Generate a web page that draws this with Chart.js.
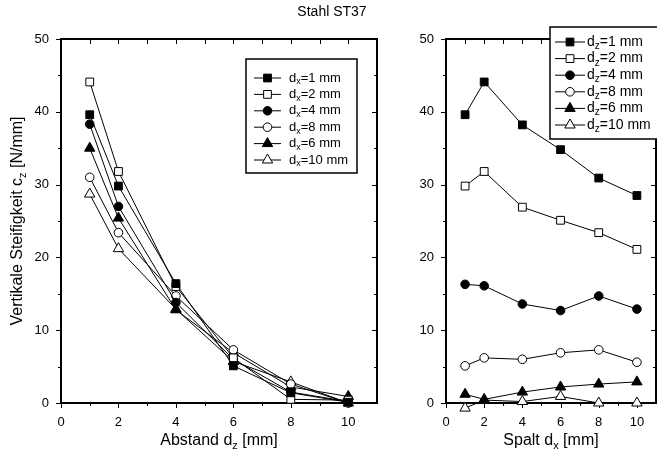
<!DOCTYPE html>
<html>
<head>
<meta charset="utf-8">
<script src="https://cdn.jsdelivr.net/npm/chart.js@4/dist/chart.umd.min.js"></script>
<style>
  html, body { margin: 0; padding: 0; background: #fff; overflow: hidden; width: 657px; height: 461px; }
  #links { position: absolute; left: 0; top: 0; }
  #rechts { position: absolute; left: 395px; top: 0; }
</style>
</head>
<body>
<canvas id="links" width="390" height="461"></canvas>
<canvas id="rechts" width="275" height="461"></canvas>
<script>
// Messpunkte (mm): d_z links, d_x rechts
const positions = [1, 2, 4, 6, 8, 10];
const legendNumbers = ['1', '2', '4', '8', '6', '10'];

// links: c_z ueber Abstand d_z, je Spalt d_x
const leftDx1 = [39.6, 29.8, 16.4, 5.1, 1.4, 0.1];
const leftDx2 = [44.1, 31.8, 16.0, 6.2, 0.5, 0.4];
const leftDx4 = [38.3, 27.0, 13.8, 6.0, 1.5, 0.2];
const leftDx8 = [31.0, 23.4, 14.7, 7.3, 2.6, 0.0];
const leftDx6 = [35.0, 25.4, 12.8, 6.9, 2.2, 0.9];
const leftDx10 = [28.7, 21.2, 12.9, 5.7, 2.9, 0.0];

// rechts: c_z ueber Spalt d_x, je Abstand d_z
const rightDz1 = [39.6, 44.1, 38.2, 34.8, 30.9, 28.5];
const rightDz2 = [29.8, 31.8, 26.9, 25.1, 23.4, 21.1];
const rightDz4 = [16.3, 16.1, 13.6, 12.7, 14.7, 12.9];
const rightDz8 = [5.1, 6.2, 6.0, 6.9, 7.3, 5.6];
const rightDz6 = [1.2, 0.5, 1.5, 2.2, 2.6, 2.9];
const rightDz10 = [-0.7, 0.4, 0.2, 0.9, 0.0, 0.0];

const yTicks = [0, 10, 20, 30, 40, 50];
const xTicks = [0, 2, 4, 6, 8, 10];

const FONT = "'Liberation Sans', Arial, sans-serif";
Chart.defaults.font.family = FONT;
Chart.defaults.color = '#000';

// Symbole wie im Original (gefuellt / offen)
const markers = [
  { style: 'rect', radius: 5.5, fill: true },
  { style: 'rect', radius: 5.5, fill: false },
  { style: 'circle', radius: 4.3, fill: true },
  { style: 'circle', radius: 4.3, fill: false },
  { style: 'triangle', radius: 6, fill: true },
  { style: 'triangle', radius: 6, fill: false }
];

function makeDatasets(seriesList) {
  return seriesList.map((vals, i) => ({
    label: legendNumbers[i],
    data: positions.map((p, j) => ({ x: p, y: vals[j] })),
    showLine: true,
    borderColor: '#000',
    borderWidth: 1,
    pointStyle: markers[i].style,
    pointRadius: markers[i].radius,
    pointBackgroundColor: markers[i].fill ? '#000' : '#fff',
    pointBorderColor: '#000',
    pointBorderWidth: 1,
    clip: false
  }));
}

// Text mit tiefgestelltem Index, zentriert um (x, y)
function drawSubText(ctx, parts, x, y, size) {
  const big = size + 'px ' + FONT, small = Math.round(size * 0.7) + 'px ' + FONT;
  let total = 0;
  parts.forEach(p => { ctx.font = p.sub ? small : big; total += ctx.measureText(p.t).width; });
  let cx = x - total / 2;
  ctx.textBaseline = 'middle';
  ctx.textAlign = 'left';
  parts.forEach(p => {
    ctx.font = p.sub ? small : big;
    ctx.fillText(p.t, cx, p.sub ? y + size * 0.3 : y);
    cx += ctx.measureText(p.t).width;
  });
  return total;
}

function drawMarker(ctx, m, x, y) {
  ctx.fillStyle = m.fill ? '#000' : '#fff';
  ctx.strokeStyle = '#000';
  ctx.lineWidth = 1;
  Chart.helpers.drawPoint(ctx, { pointStyle: m.style, radius: m.radius, rotation: 0, borderWidth: 1 }, x, y);
}

const framePlugin = {
  id: 'frameTicks',
  beforeDatasetsDraw(chart) {
    const { ctx, chartArea: a, scales: { x, y } } = chart;
    ctx.save();
    ctx.strokeStyle = '#000';
    ctx.lineWidth = 1;
    ctx.beginPath();
    for (let v = 0; v <= 10; v++) {
      const px = Math.round(x.getPixelForValue(v)) + 0.5;
      const major = v % 2 === 0;
      ctx.moveTo(px, a.bottom); ctx.lineTo(px, a.bottom + (major ? 5 : 3));
      ctx.moveTo(px, a.top); ctx.lineTo(px, a.top + 5);
    }
    for (let v = 0; v <= 50; v += 5) {
      const py = Math.round(y.getPixelForValue(v)) + 0.5;
      const major = v % 10 === 0;
      ctx.moveTo(a.left, py); ctx.lineTo(a.left - (major ? 5 : 3), py);
      ctx.moveTo(a.right, py); ctx.lineTo(a.right - (major ? 5 : 3), py);
    }
    ctx.stroke();
    ctx.lineWidth = 2;
    ctx.strokeRect(a.left, a.top, a.right - a.left, a.bottom - a.top);
    ctx.restore();
  },
  afterDatasetsDraw(chart, args, opts) {
    const { ctx, chartArea: a } = chart;
    ctx.save();
    ctx.fillStyle = '#000';
    // Achsentitel
    drawSubText(ctx, opts.xTitle, (a.left + a.right) / 2, 441, 16);
    if (opts.yTitle) {
      ctx.save();
      ctx.translate(18, (a.top + a.bottom) / 2);
      ctx.rotate(-Math.PI / 2);
      drawSubText(ctx, opts.yTitle, 0, 0, 16);
      ctx.restore();
    }
    if (opts.title) {
      ctx.font = '14px ' + FONT;
      ctx.textAlign = 'center';
      ctx.textBaseline = 'middle';
      ctx.fillText(opts.title, 332, 12);
    }
    // Legende
    const L = opts.legend;
    const bx = a.left + L.dx, by = L.top;
    ctx.fillStyle = '#fff';
    ctx.fillRect(bx, by, L.w, L.h);
    ctx.strokeStyle = '#000';
    ctx.lineWidth = 1.5;
    ctx.strokeRect(bx, by, L.w, L.h);
    chart.data.datasets.forEach((ds, i) => {
      const ry = by + L.first + i * L.step;
      ctx.strokeStyle = '#000';
      ctx.lineWidth = 1;
      ctx.beginPath();
      ctx.moveTo(bx + L.line[0], ry); ctx.lineTo(bx + L.line[1], ry);
      ctx.stroke();
      drawMarker(ctx, markers[i], (L.line[0] + L.line[1]) / 2 + bx, ry);
      ctx.fillStyle = '#000';
      const parts = [{ t: 'd' }, { t: L.sub, sub: true }, { t: '=' + ds.label + ' mm' }];
      let w = 0;
      parts.forEach(p => { ctx.font = (p.sub ? Math.round(L.size * 0.7) : L.size) + 'px ' + FONT; w += ctx.measureText(p.t).width; });
      drawSubText(ctx, parts, bx + L.text + w / 2, ry, L.size);
    });
    ctx.restore();
  }
};

function makeOptions(yWidth, padRight, pluginOpts) {
  return {
    responsive: false,
    animation: false,
    events: [],
    layout: { padding: { top: 39, right: padRight, left: 0, bottom: 0 } },
    plugins: { legend: { display: false }, tooltip: { enabled: false }, frameTicks: pluginOpts },
    scales: {
      x: {
        type: 'linear', min: 0, max: 11,
        grid: { display: false, drawTicks: false },
        border: { display: false },
        ticks: { font: { size: 13 }, padding: 12, color: '#000' },
        afterBuildTicks: s => { s.ticks = xTicks.map(v => ({ value: v })); },
        afterFit: s => { s.height = 58; }
      },
      y: {
        type: 'linear', min: 0, max: 50,
        grid: { display: false, drawTicks: false },
        border: { display: false },
        ticks: { font: { size: 13 }, padding: 12, color: '#000' },
        afterBuildTicks: s => { s.ticks = yTicks.map(v => ({ value: v })); },
        afterFit: s => { s.width = yWidth; }
      }
    }
  };
}

new Chart(document.getElementById('links'), {
  type: 'scatter',
  data: { datasets: makeDatasets([leftDx1, leftDx2, leftDx4, leftDx8, leftDx6, leftDx10]) },
  options: makeOptions(61, 13, {
    title: 'Stahl ST37',
    xTitle: [{ t: 'Abstand d' }, { t: 'z', sub: true }, { t: ' [mm]' }],
    yTitle: [{ t: 'Vertikale Steifigkeit c' }, { t: 'z', sub: true }, { t: ' [N/mm]' }],
    legend: { dx: 185, top: 59, w: 111, h: 114, first: 19, step: 16.4, sub: 'x', size: 13, line: [8, 35], text: 43 }
  }),
  plugins: [framePlugin]
});

new Chart(document.getElementById('rechts'), {
  type: 'scatter',
  data: { datasets: makeDatasets([rightDz1, rightDz2, rightDz4, rightDz8, rightDz6, rightDz10]) },
  options: makeOptions(51, 14, {
    xTitle: [{ t: 'Spalt d' }, { t: 'x', sub: true }, { t: ' [mm]' }],
    legend: { dx: 104, top: 27, w: 140, h: 112, first: 15, step: 16.6, sub: 'z', size: 14, line: [5, 35], text: 37 }
  }),
  plugins: [framePlugin]
});
</script>
</body>
</html>
